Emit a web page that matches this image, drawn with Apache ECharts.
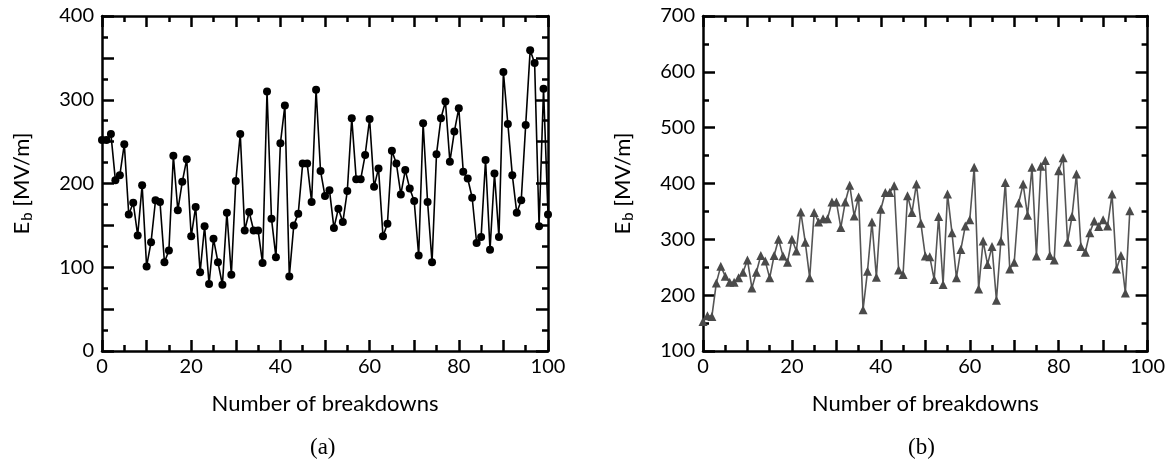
<!DOCTYPE html>
<html>
<head>
<meta charset="utf-8">
<script src="https://cdn.jsdelivr.net/npm/echarts@6/dist/echarts.min.js"></script>
<style>
html,body{margin:0;padding:0;background:#fff;}
#chart{width:1168px;height:475px;}
</style>
</head>
<body>
<div id="chart"></div>
<script>
// Panel (a): breakdown field after each breakdown (MV/m), breakdowns 0..100
const fieldA = [252,252,259,204,210,247,163,177,138,198,
  101,130,180,178,106,120,233,168,202,229,
  137,172,94,149,80,134,106,79,165,91,
  203,259,144,166,144,144,105,310,158,112,
  248,293,89,150,164,224,224,178,312,215,
  185,192,147,170,154,191,278,205,205,234,
  277,196,218,137,152,239,224,187,216,194,
  179,114,272,178,106,235,278,298,226,262,
  290,214,206,183,129,136,228,121,212,136,
  333,271,210,165,180,270,359,344,149,313,163];
// Panel (b): breakdowns 0..96
const fieldB = [153,163,162,222,252,234,223,223,231,241,
  263,213,241,271,261,231,271,300,270,259,
  300,279,349,295,231,348,331,337,337,367,
  367,321,367,397,342,376,174,243,331,232,
  354,384,384,396,245,237,378,348,399,329,
  270,269,228,341,219,381,312,231,282,324,
  335,429,211,297,255,287,191,297,402,247,
  259,365,399,343,429,270,431,441,271,263,
  423,446,295,341,417,287,277,312,333,323,
  335,324,381,247,271,204,351];
const xTicksLabels = [0,20,40,60,80,100];
const xName = 'Number of breakdowns';
const captions = ['(a)', '(b)'];

const FONT = 'Lato';
const pairs = arr => arr.map((v, i) => [i, v]);

function xAxes(gi) {
  const base = {
    type: 'value', gridIndex: gi, min: 0, max: 100, interval: 10,
    axisLine: {show: true, onZero: false, lineStyle: {color: '#000', width: 2.5}},
    axisTick: {show: true, inside: true, length: 11, lineStyle: {color: '#000', width: 2.5}},
    minorTick: {show: true, splitNumber: 2, length: 6, lineStyle: {color: '#000', width: 2.5}},
    splitLine: {show: false}, minorSplitLine: {show: false}
  };
  return [
    Object.assign({}, base, {
      position: 'bottom',
      name: xName, nameLocation: 'middle', nameGap: 42,
      nameTextStyle: {fontFamily: FONT, fontSize: 22, color: '#000'},
      axisLabel: {show: true, margin: 6, fontFamily: FONT, fontSize: 20, color: '#000',
        formatter: v => xTicksLabels.indexOf(v) >= 0 ? String(v) : ''}
    }),
    Object.assign({}, base, {position: 'top', axisLabel: {show: false}})
  ];
}

function yAxes(gi, min, max, interval, labelStep) {
  const base = {
    type: 'value', gridIndex: gi, min: min, max: max, interval: interval,
    axisLine: {show: true, onZero: false, lineStyle: {color: '#000', width: 2.5}},
    axisTick: {show: true, inside: true, length: 12, lineStyle: {color: '#000', width: 2.5}},
    minorTick: {show: true, splitNumber: 2, length: 6, lineStyle: {color: '#000', width: 2.5}},
    splitLine: {show: false}, minorSplitLine: {show: false}
  };
  return [
    Object.assign({}, base, {
      position: 'left',
      name: '{m|E}{s|b}{m| [MV/m]}', nameLocation: 'middle', nameGap: 66,
      nameTextStyle: {fontFamily: FONT, fontSize: 22, color: '#000',
        rich: {
          m: {fontFamily: FONT, fontSize: 22, color: '#000', lineHeight: 28},
          s: {fontFamily: FONT, fontSize: 15, color: '#000', lineHeight: 28, padding: [11, 0, 0, 1]}
        }},
      axisLabel: {show: true, margin: 8, fontFamily: FONT, fontSize: 20, color: '#000',
        formatter: v => (v % labelStep === 0) ? String(v) : ''}
    }),
    Object.assign({}, base, {position: 'right', axisLabel: {show: false}})
  ];
}

const chart = echarts.init(document.getElementById('chart'), null, {renderer: 'canvas'});
chart.setOption({
  animation: false,
  backgroundColor: '#fff',
  grid: [
    {left: 102, top: 16, width: 446, height: 335},
    {left: 703, top: 16, width: 445, height: 335}
  ],
  xAxis: [].concat(xAxes(0), xAxes(1)),
  yAxis: [].concat(yAxes(0, 0, 400, 50, 100), yAxes(1, 100, 700, 100, 100)),
  series: [
    {type: 'line', xAxisIndex: 0, yAxisIndex: 0, data: pairs(fieldA),
      symbol: 'circle', symbolSize: 8, clip: false,
      itemStyle: {color: '#000'}, lineStyle: {color: '#000', width: 1.6}},
    {type: 'line', xAxisIndex: 2, yAxisIndex: 2, data: pairs(fieldB),
      symbol: 'triangle', symbolSize: 9, clip: false,
      itemStyle: {color: '#4a4a4a'}, lineStyle: {color: '#555', width: 1.6}}
  ],
  graphic: [
    {type: 'text', left: 310, top: 436, style: {text: captions[0], font: '23px "Liberation Serif"', fill: '#000'}},
    {type: 'text', left: 908, top: 436, style: {text: captions[1], font: '23px "Liberation Serif"', fill: '#000'}}
  ]
});
</script>
</body>
</html>
